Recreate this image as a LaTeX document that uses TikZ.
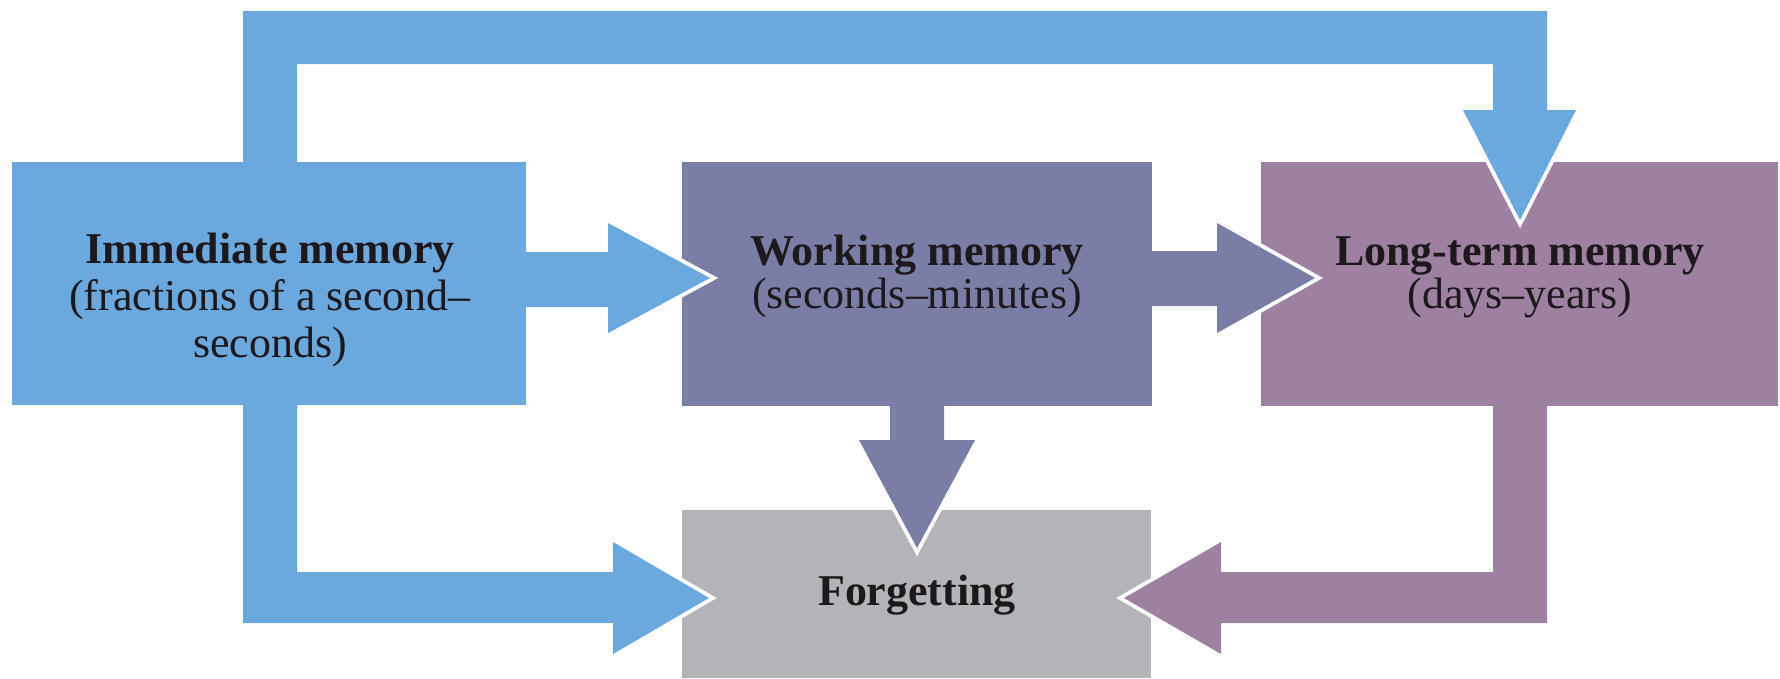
\documentclass[tikz,border=0pt]{standalone}
\usepackage{fontspec}
\setmainfont{Liberation Serif}
\definecolor{immc}{RGB}{107,168,222}
\definecolor{workc}{RGB}{122,126,166}
\definecolor{ltc}{RGB}{158,128,161}
\definecolor{forgc}{RGB}{178,180,183}
\definecolor{txtc}{RGB}{28,24,28}
\begin{document}
\begin{tikzpicture}[x=0.01cm,y=-0.01cm,
  memorybox/.style={rectangle, inner sep=0pt, outer sep=0pt, anchor=north west},
  headline/.style={draw=white, line width=2.2pt, line join=miter},
  titletxt/.style={anchor=base, inner sep=0pt, text=txtc, font=\fontsize{12.5}{13}\selectfont\bfseries},
  subtxt/.style={anchor=base, inner sep=0pt, text=txtc, font=\fontsize{12.5}{13}\selectfont}]
\useasboundingbox (0,0) rectangle (1780,678);
\fill[white] (0,0) rectangle (1780,678);

% boxes
\node[memorybox, fill=immc, minimum width=5.14cm, minimum height=2.43cm] (imm) at (12,162) {};
\node[memorybox, fill=workc, minimum width=4.70cm, minimum height=2.44cm] (work) at (682,162) {};
\node[memorybox, fill=ltc, minimum width=5.17cm, minimum height=2.44cm] (lt) at (1261,162) {};
\node[memorybox, fill=forgc, minimum width=4.69cm, minimum height=1.68cm] (forg) at (682,510) {};

% texts
\node[titletxt] (imm1) at (270,263) {Immediate memory};
\node[subtxt] (imm2) at (270,310) {(fractions of a second–};
\node[subtxt] (imm3) at (270,357) {seconds)};
\node[titletxt] (work1) at (917,265) {Working memory};
\node[subtxt] (work2) at (917,308) {(seconds–minutes)};
\node[titletxt] (lt1) at (1520,265) {Long-term memory};
\node[subtxt] (lt2) at (1520,308) {(days–years)};
\node[titletxt] (forg1) at (917,605) {Forgetting};

% immediate -> long-term (top loop)
\draw[headline] (1463,110) -- (1520,220) -- (1576,110) -- cycle;
\fill[immc] (243,168) -- (243,11) -- (1547,11) -- (1547,110) -- (1576,110) -- (1520,220)
  -- (1463,110) -- (1493,110) -- (1493,64) -- (297,64) -- (297,168) -- cycle;

% immediate -> working
\draw[headline] (608,223) -- (710,278) -- (608,333) -- cycle;
\fill[immc] (520,252) -- (608,252) -- (608,223) -- (710,278) -- (608,333) -- (608,307) -- (520,307) -- cycle;

% working -> long-term
\draw[headline] (1217,223) -- (1315,278) -- (1217,333) -- cycle;
\fill[workc] (1146,251) -- (1217,251) -- (1217,223) -- (1315,278) -- (1217,333) -- (1217,306) -- (1146,306) -- cycle;

% working -> forgetting
\draw[headline] (859,440) -- (917,548) -- (975,440) -- cycle;
\fill[workc] (890,400) -- (890,440) -- (859,440) -- (917,548) -- (975,440) -- (944,440) -- (944,400) -- cycle;

% immediate -> forgetting
\draw[headline] (613,542) -- (709,598) -- (613,654) -- cycle;
\fill[immc] (243,399) -- (243,623) -- (613,623) -- (613,654) -- (709,598) -- (613,542) -- (613,572)
  -- (297,572) -- (297,399) -- cycle;

% long-term -> forgetting
\draw[headline] (1221,542) -- (1124,598) -- (1221,654) -- cycle;
\fill[ltc] (1547,400) -- (1547,623) -- (1221,623) -- (1221,654) -- (1124,598) -- (1221,542) -- (1221,572)
  -- (1493,572) -- (1493,400) -- cycle;
\end{tikzpicture}
\end{document}
